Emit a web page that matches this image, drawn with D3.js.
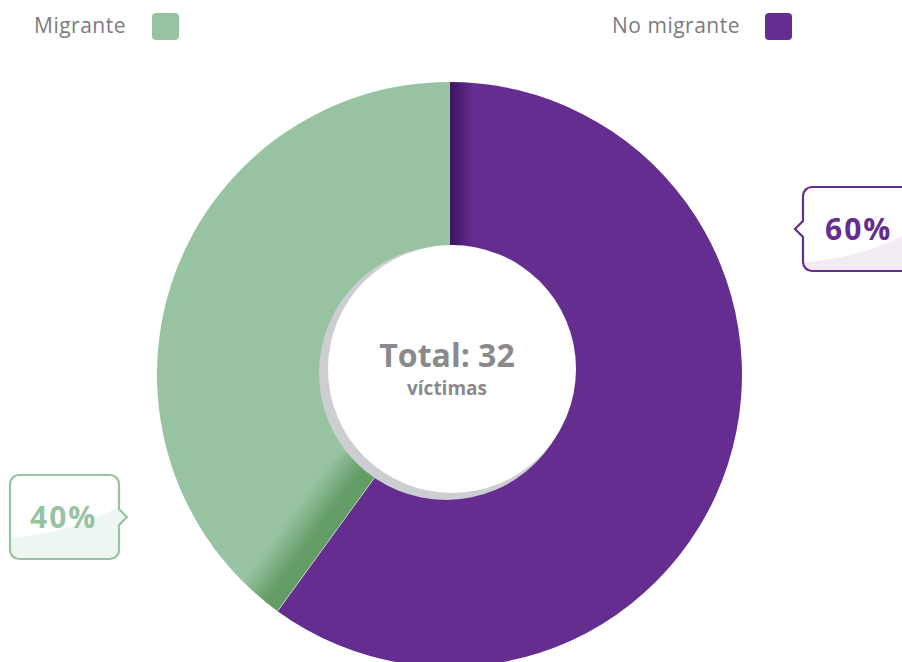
<!DOCTYPE html>
<html>
<head>
<meta charset="utf-8">
<script src="https://cdn.jsdelivr.net/npm/d3@7"></script>
<style>
  body { margin: 0; background: #fff; }
  svg { display: block; font-family: "Open Sans", "Noto Sans", sans-serif; }
</style>
</head>
<body>
<svg id="chart" width="902" height="662"></svg>
<script>
// data
const categories = ["No migrante", "Migrante"]
const percents = [60, 40]
const totalVictims = 32
const totalLabel = "Total: " + totalVictims
const subLabel = "víctimas"

const colors = ["#652d8f", "#98c3a2"]
const darkColors = ["#3d135f", "#5a955b"]

const svg = d3.select("#chart")
const cx = 449.5, cy = 374.5, outerR = 292.5

const pie = d3.pie().sort(null).value(d => d)
const arcs = pie(percents)
const arc = d3.arc().innerRadius(110).outerRadius(outerR)

const defs = svg.append("defs")
const g = svg.append("g").attr("transform", `translate(${cx},${cy})`)

g.selectAll("path.slice")
  .data(arcs)
  .join("path")
  .attr("class", "slice")
  .attr("fill", (d, i) => colors[i])
  .attr("d", arc)

// dark band along the start edge of every slice
arcs.forEach((d, i) => {
  const a = d.startAngle
  const nx = Math.cos(a), ny = Math.sin(a)  // direction into the slice
  const w = i == 0 ? 24 : 46
  const gr = defs.append("linearGradient")
    .attr("id", "shade" + i)
    .attr("gradientUnits", "userSpaceOnUse")
    .attr("x1", 0).attr("y1", 0)
    .attr("x2", nx * w).attr("y2", ny * w)
  if (i == 0) {
    gr.append("stop").attr("offset", 0).attr("stop-color", darkColors[i]).attr("stop-opacity", 1)
    gr.append("stop").attr("offset", 0.45).attr("stop-color", darkColors[i]).attr("stop-opacity", 0.55)
    gr.append("stop").attr("offset", 1).attr("stop-color", darkColors[i]).attr("stop-opacity", 0)
  } else {
    gr.append("stop").attr("offset", 0).attr("stop-color", darkColors[i]).attr("stop-opacity", 0.85)
    gr.append("stop").attr("offset", 0.35).attr("stop-color", darkColors[i]).attr("stop-opacity", 0.8)
    gr.append("stop").attr("offset", 1).attr("stop-color", darkColors[i]).attr("stop-opacity", 0)
  }
  g.append("path")
    .attr("fill", `url(#shade${i})`)
    .attr("d", arc({startAngle: a, endAngle: a + 0.3}))
})

// thin light line between slices
arcs.forEach(d => {
  const a = d.startAngle
  g.append("line")
    .attr("x1", Math.sin(a) * 110).attr("y1", -Math.cos(a) * 110)
    .attr("x2", Math.sin(a) * outerR).attr("y2", -Math.cos(a) * outerR)
    .attr("stroke", "#e8eee8").attr("stroke-width", 0.8).attr("opacity", 0.8)
})

// centre hole with shadow
svg.append("circle").attr("cx", 446).attr("cy", 373).attr("r", 127).attr("fill", "#cdced1")
svg.append("circle").attr("cx", 452).attr("cy", 369).attr("r", 124).attr("fill", "#fff")

const centre = svg.append("text")
  .attr("text-anchor", "middle")
  .attr("font-weight", 700)
  .attr("fill", "#8a8a8c")
centre.append("tspan")
  .attr("x", 447).attr("y", 367)
  .attr("font-size", 32)
  .text(totalLabel)
centre.append("tspan")
  .attr("x", 447).attr("y", 395)
  .attr("font-size", 19)
  .text(subLabel)

// legend
const legend = [
  {label: categories[1], color: colors[1], tx: 126, sx: 152},
  {label: categories[0], color: colors[0], tx: 740, sx: 765}
]
legend.forEach(l => {
  svg.append("text")
    .attr("x", l.tx).attr("y", 33)
    .attr("text-anchor", "end")
    .attr("font-size", 21)
    .attr("letter-spacing", 0.5)
    .attr("fill", "#7b7b7d")
    .text(l.label)
  svg.append("rect")
    .attr("x", l.sx).attr("y", 13).attr("width", 27).attr("height", 27)
    .attr("rx", 4).attr("fill", l.color)
})

// callout boxes
function box(x0, y0, x1, y1, r, side) {
  const p = d3.path()
  const my = (y0 + y1) / 2
  p.moveTo(x0 + r, y0)
  p.lineTo(x1 - r, y0)
  p.arcTo(x1, y0, x1, y0 + r, r)
  if (side == "right") {
    p.lineTo(x1, my - 8); p.lineTo(x1 + 8, my); p.lineTo(x1, my + 8)
  }
  p.lineTo(x1, y1 - r)
  p.arcTo(x1, y1, x1 - r, y1, r)
  p.lineTo(x0 + r, y1)
  p.arcTo(x0, y1, x0, y1 - r, r)
  if (side == "left") {
    p.lineTo(x0, my + 8); p.lineTo(x0 - 8, my); p.lineTo(x0, my - 8)
  }
  p.lineTo(x0, y0 + r)
  p.arcTo(x0, y0, x0 + r, y0, r)
  p.closePath()
  return p.toString()
}

const callouts = [
  {i: 0, x0: 803, y0: 187, x1: 940, y1: 271, side: "left", tx: 825, ty: 240,
   gloss: "M795,263 Q870,258 912,230 L940,230 L940,280 L795,280 Z", glossColor: "#f3ebf4"},
  {i: 1, x0: 10, y0: 475, x1: 119, y1: 559, side: "right", tx: 30, ty: 528,
   gloss: "M0,539 Q75,534 125,503 L130,503 L130,570 L0,570 Z", glossColor: "#eef6f2"}
]
callouts.forEach(c => {
  const d = box(c.x0, c.y0, c.x1, c.y1, 9, c.side)
  defs.append("clipPath").attr("id", "clip" + c.i).append("path").attr("d", d)
  svg.append("path").attr("d", d).attr("fill", "#fff")
  svg.append("path").attr("d", c.gloss).attr("fill", c.glossColor).attr("clip-path", `url(#clip${c.i})`)
  svg.append("path").attr("d", d).attr("fill", "none").attr("stroke", colors[c.i]).attr("stroke-width", 2.2)
  svg.append("text")
    .attr("x", c.tx).attr("y", c.ty)
    .attr("font-size", 30).attr("font-weight", 700)
    .attr("letter-spacing", 2)
    .attr("fill", colors[c.i])
    .text(percents[c.i] + "%")
})
</script>
</body>
</html>
